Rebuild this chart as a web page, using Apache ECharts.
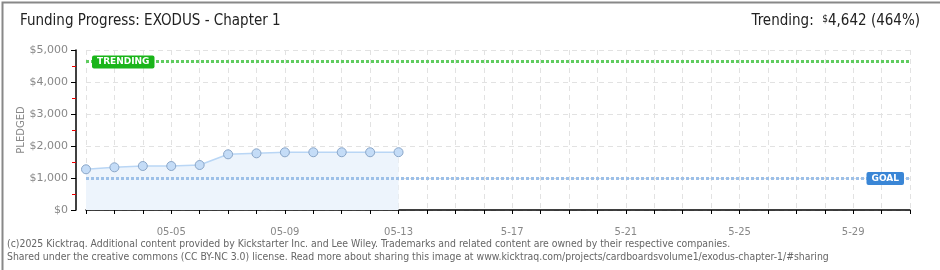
<!DOCTYPE html>
<html><head><meta charset="utf-8">
<script src="https://cdn.jsdelivr.net/npm/echarts@6/dist/echarts.min.js"></script>
<style>html,body{margin:0;padding:0;background:#fff}#c{width:940px;height:270px}</style>
</head><body><div id="c"></div>
<script>
var categories = ['05-02','05-03','05-04','05-05','05-06','05-07','05-08','05-09','05-10','05-11','05-12','05-13','05-14','05-15','05-16','05-17','05-18','05-19','05-20','05-21','05-22','05-23','05-24','05-25','05-26','05-27','05-28','05-29','05-30','05-31'];
var tickLabels = {3:'05-05',7:'05-09',11:'05-13',15:'5-17',19:'5-21',23:'5-25',27:'5-29'};
var pledged = [1272,1334,1375,1375,1406,1740,1771,1803,1805,1805,1805,1806];
var goal = 1000;
var trending = 4642;

var chart = echarts.init(document.getElementById('c'));
chart.setOption({
  animation:false,
  textStyle:{fontFamily:'DejaVu Sans'},
  graphic:[
    {type:'rect',left:0,top:0,shape:{width:939,height:269},style:{fill:'none',stroke:'#888',lineWidth:2}},
    {type:'text',left:20,top:14,style:{text:'Funding Progress: EXODUS - Chapter 1',fontSize:15,fontFamily:'DejaVu Sans Condensed',fill:'#222'}},
    {type:'text',right:20,top:14,style:{text:'{a|Trending:  }{s|$}{a|4,642 (464%)}',rich:{a:{fontSize:15,fontFamily:'DejaVu Sans Condensed',fill:'#222'},s:{fontSize:10,fontFamily:'DejaVu Sans Condensed',fill:'#222',verticalAlign:'top'}}}},
    {type:'text',left:7,top:238,style:{text:'(c)2025 Kicktraq. Additional content provided by Kickstarter Inc. and Lee Wiley. Trademarks and related content are owned by their respective companies.\nShared under the creative commons (CC BY-NC 3.0) license. Read more about sharing this image at www.kicktraq.com/projects/cardboardsvolume1/exodus-chapter-1/#sharing',fontSize:10.4,lineHeight:13,fontFamily:'DejaVu Sans Condensed',fill:'#666'}}
  ],
  grid:{left:86,right:30,top:50,bottom:60},
  xAxis:{
    type:'category',data:categories,boundaryGap:false,offset:10,
    axisLine:{lineStyle:{color:'#000',width:1.5}},
    axisTick:{interval:0,length:4,lineStyle:{color:'#000'}},
    axisLabel:{interval:0,color:'#888',fontSize:10,margin:7,formatter:function(v,i){return tickLabels[i]||'';}},
    splitLine:{show:true,interval:0,lineStyle:{color:'#e2e2e2',type:[5,4]}}
  },
  yAxis:{
    type:'value',min:0,max:5000,interval:1000,offset:10,
    name:'PLEDGED',nameLocation:'middle',nameGap:50,nameMoveOverlap:false,nameTextStyle:{color:'#888',fontSize:10},
    axisLine:{show:true,lineStyle:{color:'#000',width:1.5}},
    axisTick:{show:true,length:5,lineStyle:{color:'#000'}},
    minorTick:{show:true,splitNumber:2,length:4,lineStyle:{color:'#e00'}},
    axisLabel:{color:'#888',fontSize:11,margin:8,formatter:function(v){return '$'+v.toLocaleString('en-US');}},
    splitLine:{show:true,lineStyle:{color:'#e2e2e2',type:[5,4]}}
  },
  series:[{
    type:'line',data:pledged,symbol:'circle',symbolSize:9,
    itemStyle:{color:'#c4dcf7',borderColor:'#8aa6c8',borderWidth:1},
    lineStyle:{color:'#b9d6f5',width:1.5},
    areaStyle:{color:'#edf4fc',opacity:1},
    z:3,
    markLine:{
      silent:true,symbol:'none',
      data:[
        {yAxis:trending,lineStyle:{color:'#5fcc5f',width:3,type:[3,2]},
         label:{show:true,position:'insideStartTop',distance:[6,-7],formatter:'TRENDING',color:'#fff',fontSize:9,fontWeight:'bold',backgroundColor:'#1ab51a',padding:[2,5,2,5],borderRadius:2}},
        {yAxis:goal,lineStyle:{color:'#9dc0e8',width:3,type:[3,2]},
         label:{show:true,position:'insideEndTop',distance:[6,-7],formatter:'GOAL',color:'#fff',fontSize:9,fontWeight:'bold',backgroundColor:'#3a86d6',padding:[2,5,2,5],borderRadius:2}}
      ]
    }
  }]
});
</script></body></html>
